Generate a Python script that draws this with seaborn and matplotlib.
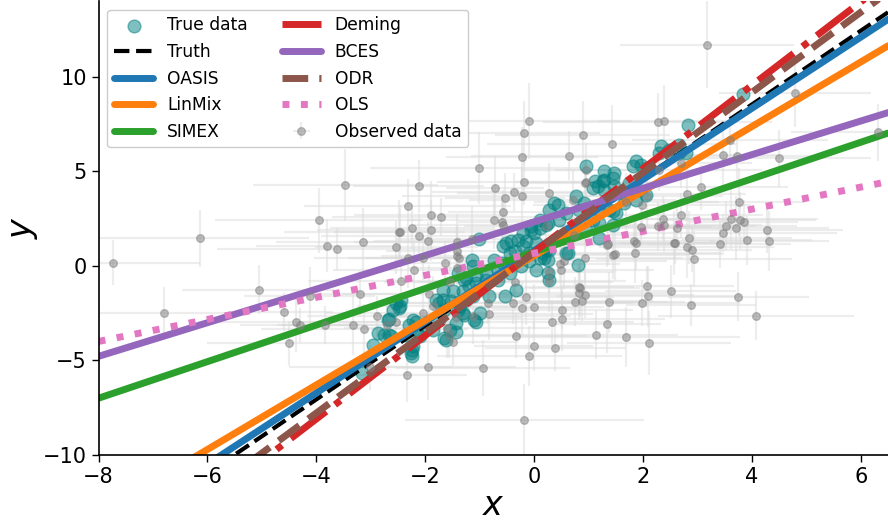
import numpy as np
import pandas as pd
import matplotlib
matplotlib.use("Agg")
import matplotlib.pyplot as plt
import seaborn as sns

# ---------------- data ----------------
# true (noise-free) data points  (x, y)
true_points = [
    (-3.17, -5.68), (-2.96, -4.18), (-2.87, -3.56), (-2.69, -2.86), (-2.53, -1.97),
    (-2.29, -3.12), (-2.26, -4.62), (-2.23, -4.27), (-1.65, -3.83), (-1.43, -3.48),
    (-1.74, -2.86), (-2.67, -3.65), (-2.59, -2.33), (-2.47, -2.15), (-2.75, -3.65),
    (-2.17, -2.95), (-1.02, 1.43), (-0.58, 1.02), (-0.42, 1.29), (-0.30, 1.38),
    (-0.21, 1.02), (-0.45, 0.67), (-1.14, 0.32), (-1.13, -0.04), (-0.74, 0.32),
    (-0.58, 0.14), (-0.67, -0.21), (-0.88, -0.39), (-1.06, -0.48), (-1.25, -0.65),
    (-1.19, -1.09), (-1.31, -1.36), (-1.49, -1.36), (-1.03, -1.27), (-0.83, -1.62),
    (-0.88, -0.74), (-0.33, -1.27), (-0.54, -1.62), (-0.45, -0.39), (-0.24, -0.04),
    (-0.09, 0.23), (0.04, -0.21), (0.16, 0.67), (0.25, 0.32), (0.25, -0.39),
    (0.28, -0.74), (-1.68, -1.80), (-1.52, -1.89), (-1.65, -2.33), (-1.40, -2.33),
    (-1.28, -2.59), (-1.10, -2.86), (-1.43, -3.03), (-1.55, -3.39), (-1.61, -3.92),
    (-1.85, -3.39), (-1.98, -3.21), (-2.23, -2.86), (-2.17, -3.39), (-2.35, -3.65),
    (-2.24, -4.44), (-2.25, -4.80), (-2.49, -2.24), (-2.67, -2.82), (-2.63, -3.74),
    (-2.45, -1.80), (-2.10, -3.74), (-1.28, -0.74), (-1.40, -0.39), (-1.06, -0.92),
    (-1.25, -1.80), (-1.74, -1.97), (-0.36, 0.76), (-0.09, 0.67), (-0.01, 1.73),
    (-0.15, 1.29), (0.04, 1.20), (0.22, 0.85), (0.19, 0.41), (-0.67, -0.74),
    (-1.13, -1.62), (-1.00, -2.50), (-1.06, -2.95), (-1.31, -2.50), (-1.37, -2.15),
    (-1.80, -1.80), (-1.68, -1.27), (2.82, 7.42), (2.33, 6.31), (2.48, 6.14),
    (2.67, 5.96), (2.79, 5.96), (1.87, 5.52), (1.96, 5.34), (1.81, 5.25),
    (2.08, 5.17), (0.95, 5.25), (1.29, 4.99), (1.47, 4.90), (1.11, 4.46),
    (1.29, 4.55), (1.44, 4.64), (1.08, 4.11), (1.29, 4.02), (1.47, 4.20),
    (1.87, 3.49), (2.06, 3.76), (0.37, 3.32), (0.28, 2.96), (0.92, 3.32),
    (0.83, 2.96), (0.59, 2.79), (0.46, 2.43), (0.25, 2.26), (0.10, 2.43),
    (-0.06, 2.08), (-0.21, 1.73), (0.59, 0.67), (1.20, 2.26), (1.38, 2.96),
    (1.50, 2.79), (-0.52, 1.20), (0.10, 1.99), (0.77, 3.67), (0.43, 3.23),
    (-0.06, 1.90), (0.22, 2.17), (0.62, 0.67), (0.81, 0.05), (0.10, 0.41),
    (0.28, 0.85), (1.20, 1.47), (1.44, 2.17), (0.95, 1.90), (1.08, 2.43),
    (1.20, 2.96), (1.63, 3.85), (1.90, 4.02), (1.17, 4.20), (1.75, 4.37),
    (2.30, 5.96), (2.67, 6.40), (1.26, 4.46), (1.44, 2.87), (1.66, 3.32),
    (3.83, 9.10),
]

# observed data points  (x, y, x_err, y_err)
observed_points = [
    (-7.73, 0.16, 1.6, 1.2), (-6.80, -2.50, 1.2, 1.4), (-6.14, 1.45, 2.0, 1.5),
    (-5.06, -1.27, 1.4, 1.3), (-4.59, -2.43, 0.9, 1.0), (-4.37, -2.98, 1.8, 1.6),
    (-4.30, -3.16, 1.1, 0.9), (-4.50, -4.10, 1.5, 1.2), (-3.47, 4.25, 1.7, 1.9),
    (-3.96, 2.40, 1.9, 1.7), (-3.80, 1.06, 1.3, 1.4), (-3.62, 0.90, 2.2, 1.1),
    (-3.15, 1.25, 1.6, 1.8), (-4.12, -1.59, 1.2, 1.5), (-3.85, -3.14, 0.8, 1.0),
    (-3.33, -3.14, 1.4, 1.6), (-3.12, -3.32, 1.9, 1.3), (-3.19, -1.50, 1.0, 1.2),
    (-2.53, 0.97, 1.5, 1.4), (-2.49, 1.76, 2.1, 1.7), (-2.88, -2.68, 1.3, 1.1),
    (-2.70, -3.16, 0.9, 1.5), (-2.54, -3.00, 1.7, 1.2), (1.43, 6.42, 2.3, 2.1),
    (-0.22, 5.75, 1.4, 1.6), (0.64, 5.82, 1.8, 1.3), (-1.02, 5.15, 2.0, 1.9),
    (-2.12, 4.20, 1.2, 1.4), (-0.18, 4.41, 1.6, 1.2), (-0.71, 4.09, 0.9, 1.7),
    (-0.37, 3.88, 1.5, 1.0), (-0.22, 3.70, 2.2, 1.5), (-0.54, 3.60, 1.1, 1.3),
    (0.28, 3.85, 1.7, 1.6), (0.95, 4.44, 1.3, 1.1), (-2.32, 3.17, 1.9, 1.4),
    (-0.58, 2.82, 1.0, 1.2), (-1.90, 2.68, 1.4, 1.8), (-1.71, 2.58, 2.0, 1.0),
    (-0.74, 2.40, 1.6, 1.5), (-0.59, 2.29, 0.8, 1.3), (-2.25, 1.97, 1.5, 1.1),
    (-1.89, 1.87, 2.1, 1.6), (-2.47, 1.80, 1.2, 1.4), (-2.12, 1.55, 1.8, 1.2),
    (-1.14, 1.44, 1.4, 1.7), (-1.95, 1.31, 1.0, 1.0), (-1.41, 1.23, 1.9, 1.5),
    (-1.42, 0.78, 1.3, 1.3), (-1.38, 0.40, 1.7, 1.1), (-2.32, 0.40, 1.1, 1.6),
    (-2.05, 0.43, 2.0, 1.2), (-2.20, -0.21, 1.5, 1.4), (-1.42, -0.14, 0.9, 1.0),
    (-1.93, -1.48, 1.6, 1.5), (-1.55, -0.88, 1.2, 1.3), (-2.04, -2.50, 1.8, 1.2),
    (-1.86, -2.12, 1.4, 1.6), (-0.39, -1.97, 2.2, 1.1), (-0.22, -2.24, 1.0, 1.4),
    (0.33, -3.00, 1.5, 1.2), (0.51, -2.80, 1.9, 1.7), (0.52, -2.35, 1.3, 1.0),
    (0.76, -1.90, 1.7, 1.3), (0.84, -1.20, 1.1, 1.5), (0.94, -1.57, 2.0, 1.2),
    (1.38, -1.94, 1.4, 1.6), (2.08, -1.09, 1.6, 1.1), (2.51, -1.34, 1.2, 1.4),
    (1.99, -1.98, 1.8, 1.2), (1.33, -3.09, 1.0, 1.5), (1.14, -3.65, 1.5, 1.3),
    (1.69, -3.78, 2.1, 1.6), (-0.33, -3.70, 1.3, 1.2), (0.50, -0.25, 1.7, 1.4),
    (0.48, 0.10, 1.1, 1.0), (0.54, 0.26, 1.9, 1.5), (1.44, 0.58, 1.4, 1.3),
    (1.85, 0.70, 1.6, 1.6), (1.35, 1.16, 1.2, 1.1), (1.87, 1.20, 2.0, 1.4),
    (2.36, 2.49, 1.5, 1.2), (2.57, 1.20, 1.0, 1.7), (2.27, 2.08, 1.8, 1.3),
    (1.96, 2.05, 1.3, 1.0), (1.69, 3.39, 1.7, 1.5), (0.94, 4.37, 1.2, 1.2),
    (0.71, 3.49, 1.9, 1.6), (3.18, 11.69, 1.6, 2.3), (4.79, 9.14, 1.4, 1.8),
    (2.27, 7.62, 2.1, 1.5), (2.39, 7.66, 1.2, 1.9), (3.60, 6.67, 1.8, 1.4),
    (3.47, 5.84, 1.0, 1.6), (3.72, 5.78, 1.5, 1.2), (4.49, 5.68, 1.7, 1.5),
    (2.70, 5.43, 1.3, 1.3), (2.29, 5.04, 1.9, 1.1), (2.07, 3.67, 1.4, 1.7),
    (2.80, 3.79, 1.1, 1.4), (3.06, 4.14, 1.6, 1.2), (1.98, 3.21, 2.0, 1.5),
    (3.76, 3.37, 1.2, 1.8), (2.70, 2.66, 1.5, 1.2), (2.38, 2.15, 1.8, 1.4),
    (2.62, 1.99, 1.1, 1.1), (3.62, 2.47, 1.6, 1.6), (3.52, 2.12, 1.3, 1.3),
    (3.47, 1.73, 2.1, 1.0), (3.78, 2.40, 1.4, 1.5), (3.85, 2.29, 1.0, 1.2),
    (3.71, 1.99, 1.7, 1.7), (3.91, 1.34, 1.2, 1.3), (2.84, 1.48, 1.9, 1.4),
    (2.59, 1.18, 1.4, 1.1), (2.80, 0.97, 1.6, 1.6), (2.90, 0.85, 1.1, 1.2),
    (2.94, 0.35, 1.8, 1.5), (3.42, 1.16, 1.3, 1.3), (1.83, 1.31, 1.5, 1.0),
    (1.48, 0.63, 2.0, 1.4), (1.34, 1.11, 1.2, 1.2), (2.10, -1.62, 1.7, 1.6),
    (3.75, -1.64, 1.3, 1.3), (6.32, 7.05, 1.6, 1.5), (4.28, 1.90, 1.4, 1.2),
    (4.32, 1.30, 1.1, 1.6), (4.08, -2.65, 1.8, 1.3), (2.88, -2.08, 1.2, 1.1),
    (-0.14, -1.66, 1.6, 1.5), (-0.01, -2.17, 1.3, 1.2), (-0.82, -2.54, 1.9, 1.4),
    (2.11, -4.07, 1.5, 1.7), (-0.01, -4.27, 1.1, 1.3), (-0.09, -4.78, 1.7, 1.6),
    (0.39, -4.37, 1.3, 1.2), (-0.94, -5.41, 1.6, 1.5), (-0.18, -8.15, 2.2, 1.9),
    (-1.49, -4.02, 1.2, 1.3), (-0.85, -1.97, 1.5, 1.1), (-0.36, -0.88, 1.8, 1.4),
    (-1.63, 0.12, 1.0, 1.2), (-1.41, 0.54, 1.4, 1.5), (-2.45, -0.79, 1.7, 1.3),
    (-1.43, -2.73, 1.2, 1.0), (-1.60, -3.30, 1.9, 1.6), (-1.56, -3.67, 1.3, 1.2),
    (-1.94, -5.38, 1.6, 1.7), (-2.33, -5.80, 1.1, 1.4), (-3.01, -5.38, 1.5, 1.2),
    (-1.12, -2.65, 1.8, 1.5), (0.27, -0.35, 1.2, 1.1), (-0.58, 2.17, 1.6, 1.3),
    (0.28, -0.83, 1.4, 1.6), (0.83, -1.13, 1.0, 1.2), (0.83, -1.45, 1.7, 1.4),
    (0.88, -1.84, 1.3, 1.1), (-0.10, 7.67, 1.9, 2.0), (-0.19, 7.02, 1.4, 1.7),
    (0.89, 6.93, 1.6, 1.8), (0.95, 5.08, 1.2, 1.4), (0.94, 0.41, 1.8, 1.3),
    (0.74, 1.64, 1.3, 1.5), (0.22, 2.08, 1.5, 1.2),
]

# fitted lines: name -> (slope, intercept)
fit_names = ["Truth", "OASIS", "LinMix", "SIMEX", "Deming", "BCES", "ODR", "OLS"]
fit_slopes = [1.95, 1.882, 1.708, 0.967, 2.206, 0.889, 2.12, 0.583]
fit_intercepts = [0.73, 0.80, 0.53, 0.73, 0.72, 2.32, 0.69, 0.66]
fit_colors = ["black", "#1f77b4", "#ff7f0e", "#2ca02c", "#d62728", "#9467bd",
              "#8c564b", "#e377c2"]
fit_styles = ["--", "-", "-", "-", "-.", "-", "--", ":"]
fit_widths = [3, 5, 5, 5, 5, 5, 5, 5]

x_limits = (-8, 6.5)
y_limits = (-10, 14)

# ---------------- plotting ----------------
sns.set_style("ticks")
plt.rcParams["font.family"] = ["DejaVu Sans"]
for key in ["text.color", "axes.labelcolor", "xtick.color", "ytick.color",
            "axes.edgecolor"]:
    plt.rcParams[key] = "black"

fig = plt.figure(figsize=(8.88, 5.27), dpi=100)
ax = fig.add_axes([0.111, 0.137, 0.889, 0.861])

true_df = pd.DataFrame(true_points, columns=["x", "y"])
obs_df = pd.DataFrame(observed_points, columns=["x", "y", "xerr", "yerr"])

sns.scatterplot(data=true_df, x="x", y="y", ax=ax, color="teal", alpha=0.5,
                s=85, edgecolor="teal", linewidth=1.0, label="True data",
                legend=False, zorder=1.2)

line_x = np.array(x_limits, dtype=float)
for name, m, b, c, ls, lw in zip(fit_names, fit_slopes, fit_intercepts,
                                 fit_colors, fit_styles, fit_widths):
    sns.lineplot(x=line_x, y=m * line_x + b, ax=ax, color=c, linestyle=ls,
                 linewidth=lw, label=name, legend=False, zorder=2)

eb = ax.errorbar(obs_df["x"], obs_df["y"], xerr=obs_df["xerr"],
                 yerr=obs_df["yerr"], fmt="o", color="grey", ecolor="#dcdcdc",
                 elinewidth=1.6, markersize=5.5, alpha=0.5,
                 label="Observed data", zorder=1.1)
# error bars stay beneath the fits, the observed markers sit on top
eb[0].set_zorder(2.5)

ax.set_xlim(*x_limits)
ax.set_ylim(*y_limits)
ax.set_xticks([-8, -6, -4, -2, 0, 2, 4, 6])
ax.set_yticks([-10, -5, 0, 5, 10])
ax.tick_params(labelsize=15, length=5, width=1, color="black",
               labelcolor="black")
ax.set_xlabel("$x$", fontsize=24, labelpad=2)
ax.set_ylabel("$y$", fontsize=24, labelpad=2)
sns.despine(ax=ax)
for sp in ["left", "bottom"]:
    ax.spines[sp].set_color("black")
    ax.spines[sp].set_linewidth(1.2)

handles, labels = ax.get_legend_handles_labels()
order = ["True data"] + fit_names + ["Observed data"]
hmap = dict(zip(labels, handles))
leg = ax.legend([hmap[l] for l in order], order, loc="upper left", ncol=2,
                fontsize=12.3, handlelength=2.3, columnspacing=2.0,
                framealpha=1.0)
leg.set_zorder(5)
for t in leg.get_texts():
    t.set_color("black")

fig.savefig("out.png", dpi=100)
